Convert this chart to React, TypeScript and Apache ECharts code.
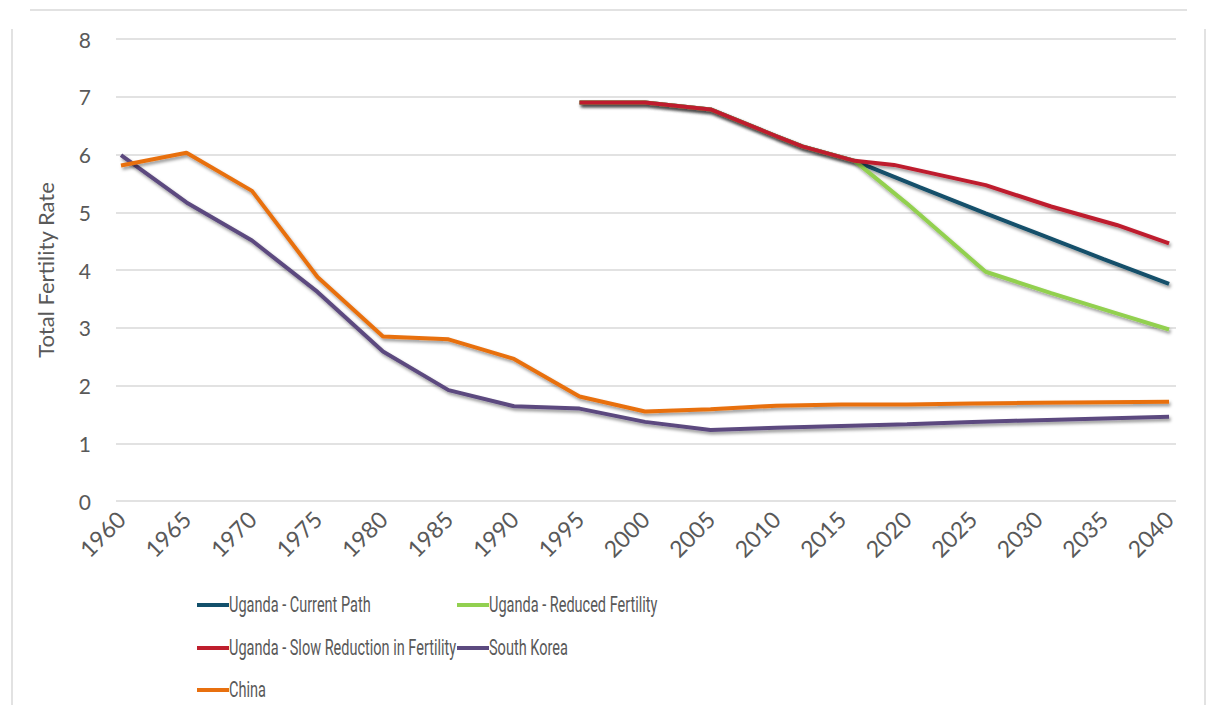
import React, { useEffect, useRef } from "react";
import * as echarts from "echarts";

const xTickYears = [1960, 1965, 1970, 1975, 1980, 1985, 1990, 1995, 2000, 2005, 2010, 2015, 2020, 2025, 2030, 2035, 2040];

const countryYears = [1960, 1965, 1970, 1975, 1980, 1985, 1990, 1995, 2000, 2005, 2010, 2015, 2020, 2025, 2030, 2035, 2040];
const chinaValues = [5.81, 6.03, 5.37, 3.88, 2.85, 2.8, 2.46, 1.81, 1.55, 1.59, 1.65, 1.67, 1.67, 1.69, 1.7, 1.71, 1.72];
const koreaValues = [5.99, 5.17, 4.51, 3.62, 2.59, 1.92, 1.64, 1.6, 1.37, 1.23, 1.27, 1.3, 1.33, 1.37, 1.4, 1.43, 1.46];

const ugandaHistYears = [1995, 2000, 2005, 2010, 2012, 2016];
const ugandaHistValues = [6.9, 6.9, 6.78, 6.32, 6.14, 5.89];

const currentYears = [2021, 2026, 2030, 2035, 2040];
const currentValues = [5.43, 4.98, 4.63, 4.19, 3.76];

const reducedYears = [2020, 2026, 2031, 2036, 2040];
const reducedValues = [5.15, 3.97, 3.6, 3.25, 2.97];

const slowYears = [2019, 2026, 2031, 2036, 2040];
const slowValues = [5.82, 5.47, 5.1, 4.78, 4.46];

const seriesNames = [
  "Uganda - Current Path",
  "Uganda - Reduced Fertility",
  "Uganda - Slow Reduction in Fertility",
  "South Korea",
  "China",
];
const colors = ["#12506b", "#92d050", "#be1e2d", "#5c4a7f", "#e8700f"];

const pairs = (ys: number[], vs: number[]) => ys.map((y, i) => [y, vs[i]]);

export default function App() {
  const ref = useRef<HTMLDivElement>(null);
  useEffect(() => {
    if (!ref.current) return;
    const chart = echarts.init(ref.current, null, { renderer: "svg" });
    const textColor = "#595959";
    const font = "Lato, 'Open Sans', sans-serif";
    const mk = (i: number, data: number[][]) => ({
      name: seriesNames[i],
      type: "line",
      data,
      showSymbol: false,
      symbol: "none",
      color: colors[i],
      lineStyle: {
        width: 4,
        color: colors[i],
        shadowColor: "rgba(0,0,0,0.4)",
        shadowBlur: 3,
        shadowOffsetX: 1.5,
        shadowOffsetY: 2.5,
      },
    });
    const legendPos = [
      { x: 197, y: 605 },
      { x: 457, y: 605 },
      { x: 197, y: 648 },
      { x: 457, y: 648 },
      { x: 197, y: 690 },
    ];
    const line = (x1: number, y1: number, x2: number, y2: number) => ({
      type: "line",
      shape: { x1, y1, x2, y2 },
      style: { stroke: "#d9d9d9", lineWidth: 1.5 },
      silent: true,
    });
    const legendItems = seriesNames.map((n, i) => ({
      type: "group",
      x: legendPos[i].x,
      y: legendPos[i].y,
      children: [
        {
          type: "rect",
          shape: { x: 0, y: -2, width: 32, height: 4 },
          style: { fill: colors[i] },
        },
        {
          type: "text",
          x: 32,
          y: 0,
          scaleX: 0.66,
          style: {
            text: n,
            fill: textColor,
            fontFamily: "Roboto, sans-serif",
            fontSize: 22,
            verticalAlign: "middle",
            align: "left",
          },
        },
      ],
    }));
    chart.setOption({
      animation: false,
      backgroundColor: "#ffffff",
      grid: { left: 116, right: 31, top: 39, bottom: 214, containLabel: false },
      xAxis: {
        type: "value",
        min: 1959.62,
        max: 2040.53,
        axisLine: { show: false },
        axisTick: { show: false },
        splitLine: { show: false },
        axisLabel: {
          customValues: xTickYears,
          rotate: 45,
          formatter: (v: number) => String(v),
          color: textColor,
          fontFamily: font,
          fontSize: 23,
          margin: 14,
        },
      },
      yAxis: {
        type: "value",
        min: 0,
        max: 8,
        interval: 1,
        name: "Total Fertility Rate",
        nameLocation: "middle",
        nameGap: 60,
        nameTextStyle: { color: textColor, fontFamily: font, fontSize: 22 },
        axisLine: { show: false },
        axisTick: { show: false },
        splitLine: { lineStyle: { color: "#d9d9d9", width: 1.5 } },
        axisLabel: { color: textColor, fontFamily: font, fontSize: 21, margin: 25 },
      },
      graphic: [
        line(30, 10, 1187, 10),
        line(12, 29, 12, 705),
        line(1205, 29, 1205, 705),
        ...legendItems,
      ],
      series: [
        mk(0, pairs([...ugandaHistYears, ...currentYears], [...ugandaHistValues, ...currentValues])),
        mk(1, pairs([...ugandaHistYears, ...reducedYears], [...ugandaHistValues, ...reducedValues])),
        mk(2, pairs([...ugandaHistYears, ...slowYears], [...ugandaHistValues, ...slowValues])),
        mk(3, pairs(countryYears, koreaValues)),
        mk(4, pairs(countryYears, chinaValues)),
      ],
    });
    return () => chart.dispose();
  }, []);
  return (
    <div
      ref={ref}
      style={{ position: "fixed", left: 0, top: 0, width: 1207, height: 715 }}
    />
  );
}
